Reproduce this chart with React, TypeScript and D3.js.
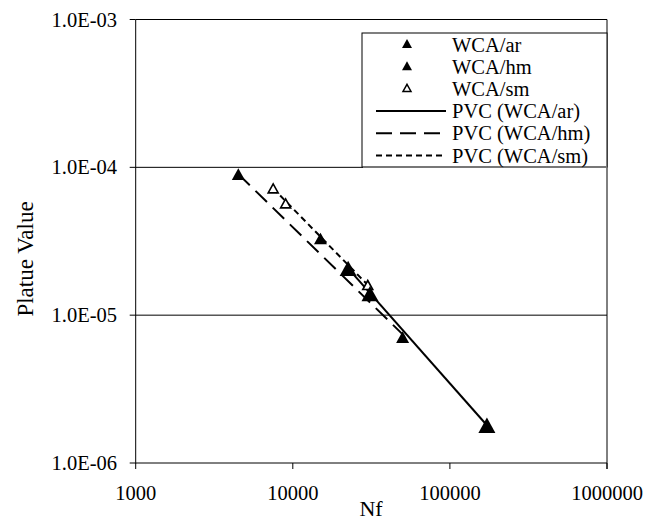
import * as d3 from 'd3'

// measured points (Nf, plateau value)
const nfAr = [22500, 31000, 172000]
const pvAr = [2.07e-5, 1.4e-5, 1.8e-6]
const nfHm = [4500, 15000, 50000]
const pvHm = [9.0e-5, 3.3e-5, 7.1e-6]
const nfSm = [7500, 9000, 30000]
const pvSm = [7.2e-5, 5.7e-5, 1.6e-5]

// PVC trend lines, end points
const pvcArNf = [22500, 172000]
const pvcArPv = [2.07e-5, 1.8e-6]
const pvcHmNf = [4500, 49500]
const pvcHmPv = [9.0e-5, 7.5e-6]
const pvcSmNf = [7500, 30000]
const pvcSmPv = [7.2e-5, 1.6e-5]

const xTicks = [1000, 10000, 100000, 1000000]
const yTicks = [1e-3, 1e-4, 1e-5, 1e-6]
const yTickLabels = ['1.0E-03', '1.0E-04', '1.0E-05', '1.0E-06']

const legendItems = ['WCA/ar', 'WCA/hm', 'WCA/sm', 'PVC (WCA/ar)', 'PVC (WCA/hm)', 'PVC (WCA/sm)']

const W = 659
const H = 520
const left = 135.7
const right = 607
const top = 19.5
const bottom = 463
const font = '"Liberation Serif", "Times New Roman", serif'
const fs = 20.5

const tri = (cx, cy, w) => {
  const h = w * 0.9
  return `M${cx},${cy - h / 2}L${cx + w / 2},${cy + h / 2}L${cx - w / 2},${cy + h / 2}Z`
}

export default function App() {
  const x = d3.scaleLog().domain([1000, 1000000]).range([left, right])
  const y = d3.scaleLog().domain([1e-6, 1e-3]).range([bottom, top])

  const line = d3.line<[number, number]>()
    .x(d => x(d[0]))
    .y(d => y(d[1]))

  const pvcLines = [
    { nf: pvcArNf, pv: pvcArPv, dash: null },
    { nf: pvcHmNf, pv: pvcHmPv, dash: '16 8' },
    { nf: pvcSmNf, pv: pvcSmPv, dash: '6 4' },
  ]

  const lgX = 362
  const lgY = 33
  const lgW = right - lgX
  const lgH = 134
  const rowH = 22.2
  const row0 = lgY + 11.5

  return (
    <svg width={W} height={H} style={{ position: 'absolute', left: 0, top: 0, background: '#fff' }}>
      {/* gridlines + frame */}
      {yTicks.map(t => (
        <line key={t} x1={left} x2={right} y1={y(t)} y2={y(t)} stroke="#000" strokeWidth={1} />
      ))}
      <line x1={left} x2={left} y1={top} y2={bottom + 0.5} stroke="#000" />
      <line x1={right} x2={right} y1={top} y2={bottom + 6} stroke="#000" />

      {/* y ticks */}
      {yTicks.map((t, i) => (
        <g key={'y' + t}>
          <line x1={left - 6} x2={left} y1={y(t)} y2={y(t)} stroke="#000" />
          <text x={117} y={y(t) + 7} textAnchor="end" fontFamily={font} fontSize={fs}>{yTickLabels[i]}</text>
        </g>
      ))}

      {/* x ticks */}
      {xTicks.map(t => (
        <g key={'x' + t}>
          <line x1={x(t)} x2={x(t)} y1={bottom} y2={bottom + 6} stroke="#000" />
          <text x={x(t)} y={500} textAnchor="middle" fontFamily={font} fontSize={fs}>{t}</text>
        </g>
      ))}

      <text x={371} y={516} textAnchor="middle" fontFamily={font} fontSize={22}>Nf</text>
      <text transform="translate(33,259) rotate(-90)" textAnchor="middle" fontFamily={font} fontSize={23}>Platue Value</text>

      {/* PVC lines */}
      {pvcLines.map((l, i) => (
        <path key={'l' + i} d={line(l.nf.map((v, j) => [v, l.pv[j]]) as [number, number][]) || ''}
          fill="none" stroke="#000" strokeWidth={2} strokeDasharray={l.dash || undefined} />
      ))}

      {/* markers */}
      {nfHm.map((v, i) => (
        <path key={'hm' + i} d={tri(x(v), y(pvHm[i]), 13)} fill="#000" />
      ))}
      {nfSm.map((v, i) => (
        <path key={'sm' + i} d={tri(x(v), y(pvSm[i]), 10)} fill="#fff" stroke="#000" strokeWidth={1.6} />
      ))}
      {nfAr.map((v, i) => (
        <path key={'ar' + i} d={tri(x(v), y(pvAr[i]), 17)} fill="#000" />
      ))}

      {/* legend */}
      <rect x={lgX} y={lgY} width={lgW} height={lgH} fill="#fff" stroke="#000" strokeWidth={1} />
      <line x1={lgX + 1} x2={right} y1={lgY + lgH} y2={lgY + lgH} stroke="#777" strokeWidth={2} />
      {legendItems.map((name, i) => {
        const cy = row0 + i * rowH
        let mark
        if (i === 0 || i === 1) mark = <path d={tri(407, cy - 1, 10)} fill="#000" />
        else if (i === 2) mark = <path d={tri(407, cy - 1, 8)} fill="#fff" stroke="#000" strokeWidth={1.5} />
        else mark = (
          <line x1={376} x2={446} y1={cy} y2={cy} stroke="#000" strokeWidth={2}
            strokeDasharray={pvcLines[i - 3].dash || undefined} />
        )
        return (
          <g key={name}>
            {mark}
            <text x={452} y={cy + 7} fontFamily={font} fontSize={fs}>{name}</text>
          </g>
        )
      })}
    </svg>
  )
}
